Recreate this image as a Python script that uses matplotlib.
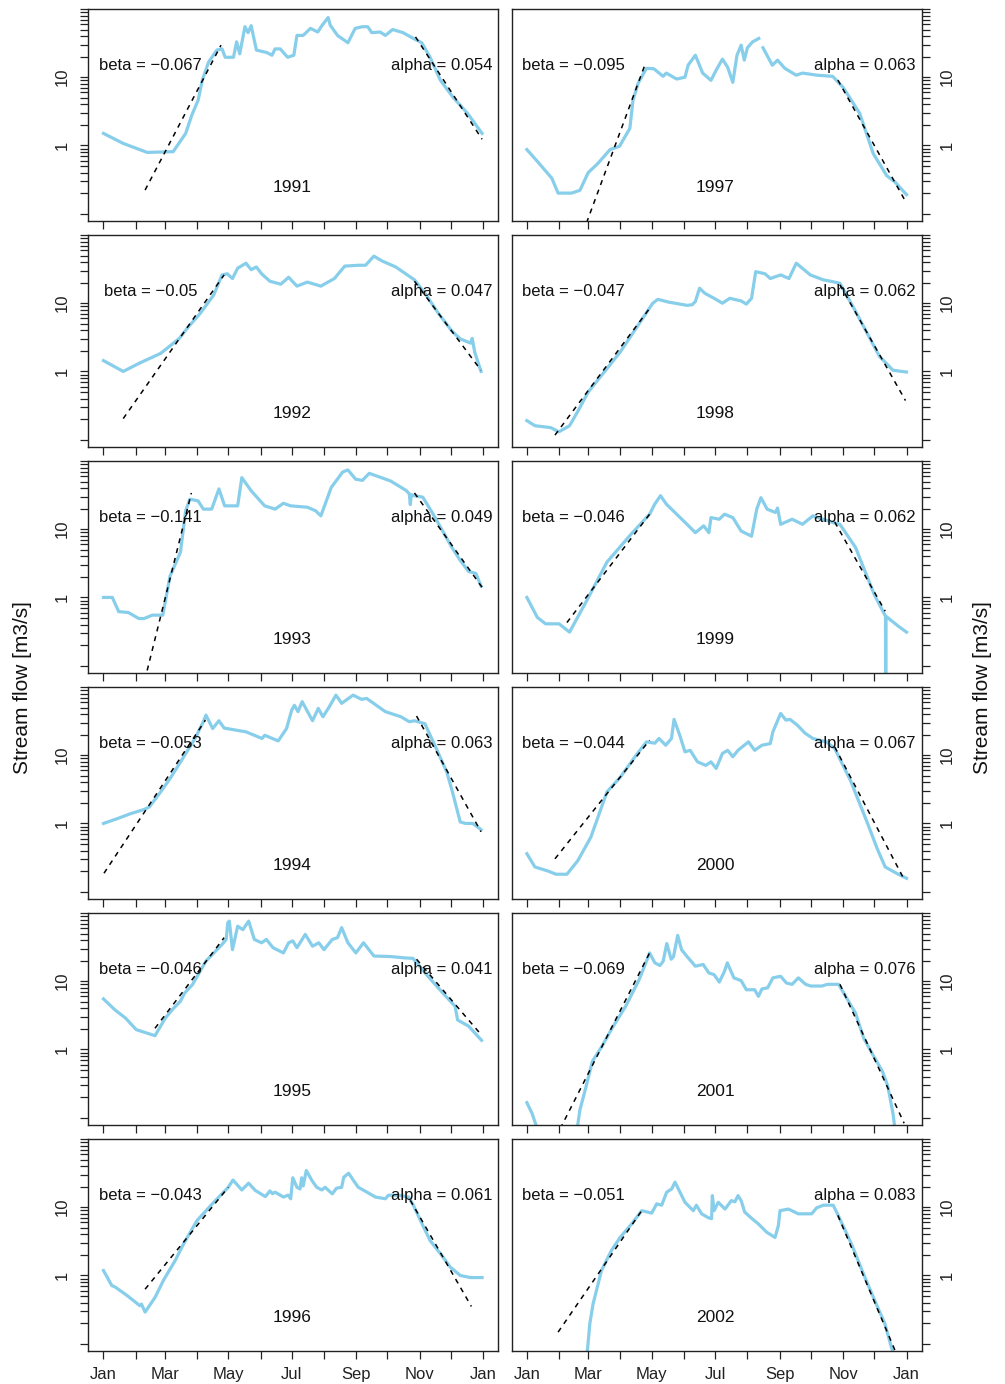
import numpy as np
import matplotlib
matplotlib.use("Agg")
import matplotlib.pyplot as plt
from matplotlib.ticker import NullLocator

plt.rcParams['font.family'] = ['Liberation Sans', 'DejaVu Sans']

nan = np.nan

# years, left column 1991-1996, right column 1997-2002
years = [1991, 1992, 1993, 1994, 1995, 1996, 1997, 1998, 1999, 2000, 2001, 2002]

# fitted rates shown in the panels
beta = [-0.067, -0.05, -0.141, -0.053, -0.046, -0.043,
        -0.095, -0.047, -0.046, -0.044, -0.069, -0.051]
alpha = [0.054, 0.047, 0.049, 0.063, 0.041, 0.061,
         0.063, 0.062, 0.062, 0.067, 0.076, 0.083]

# rising limb fit: start day, end day, flow at end day
rise_start = [41, 20, 43, 1.5, 50.5, 41, 55, 28, 39.5, 28, 33, 31]
rise_end = [114, 117, 85.5, 99, 117, 121, 114, 119, 119, 119, 119, 111.4]
rise_top = [29.5, 26, 34, 32.7, 43.5, 19.6, 14.5, 8.4, 16.6, 16.6, 26, 8.9]

# recession fit: start day, end day, flow at start day
rec_start = [301, 300, 300, 302, 302, 296, 300, 302, 297, 297, 302, 300]
rec_end = [365, 364, 365, 364, 365, 354.7, 364, 365, 345.5, 364, 363.7, 355]
rec_top = [39, 21, 34, 37.5, 21, 12.6, 9.1, 18.6, 12.7, 13.2, 9, 7.6]

# daily stream flow (day of year, m3/s)
days_1991 = [1, 20, 43, 68, 80, 86, 92, 96, 102, 110, 115, 118, 126, 129, 132, 137, 140, 143,
             148, 158, 163, 166, 171, 178, 184, 187, 193, 200, 207, 211, 217, 219, 226, 236,
             243, 250, 255, 259, 267, 272, 279, 289, 299, 307, 315, 325, 337, 351, 365]
flow_1991 = [1.5, 1.07, 0.79, 0.81, 1.5, 2.8, 4.6, 9, 16.6, 25, 26, 19.6, 19.6, 33, 22, 55, 45, 57,
             25, 23, 21, 26, 26, 19.6, 21, 41, 41, 52, 46, 57, 75, 58, 41, 32,
             52, 55, 55, 45, 46, 41, 50, 45, 37, 32, 19.6, 9, 5.1, 2.95, 1.5]

days_1992 = [1, 20, 35, 56, 74, 81.5, 94, 107, 115, 120, 125, 130, 138, 143, 148, 153, 161, 171.5,
             179, 187, 197, 210, 223, 233, 246, 253, 261, 269, 282, 300, 310, 323, 336, 344,
             354, 355.5, 358, 364]
flow_1992 = [1.44, 1.0, 1.31, 1.84, 3.05, 4.3, 7.1, 13.2, 26, 27, 23, 32.6, 38.6, 31, 34, 27, 21, 19,
             24, 17.8, 20.4, 17.8, 23, 35, 36, 36, 49, 41.5, 34, 22, 14, 7.1, 3.9, 3.0,
             2.6, 3.05, 1.9, 1.0]

days_1993 = [1, 9.5, 15.6, 25, 35, 40, 48, 58, 65, 75, 80, 84, 92, 97, 105, 112, 117.5, 130, 134,
             143, 156, 166, 174, 181, 197, 205, 210, 220, 231, 236, 243.5, 250, 256.5, 264, 277,
             292, 295, 296, 297, 300, 308, 318, 336, 344, 352, 359, 364]
flow_1993 = [1.0, 1.0, 0.62, 0.6, 0.49, 0.49, 0.55, 0.55, 2.06, 4.6, 18.6, 27.6, 26, 19.7, 19.7, 39, 22, 22, 57,
             36.6, 22, 19.7, 24, 22, 21, 18.6, 15.7, 41, 69, 74, 54, 52, 66, 60, 51,
             37, 33, 23, 32, 31, 29.5, 16.6, 5.4, 3.5, 2.4, 2.25, 1.47]

days_1994 = [1, 14, 27, 40, 45, 56, 66, 76, 89, 97, 99.5, 106, 112, 117, 138, 153.5, 156, 169, 177,
             182, 184.5, 188, 192, 202, 207.5, 212, 218, 224.5, 230, 241, 249, 254, 272, 287,
             295, 300, 310, 321, 331, 336.5, 344, 349, 356, 364]
flow_1994 = [1.0, 1.17, 1.39, 1.6, 1.74, 2.9, 4.8, 8.4, 17.6, 31, 38.7, 24.6, 32, 25, 22, 17.6, 19.6, 16.2, 24.6,
             46, 54, 43.5, 61, 32, 48.6, 36.6, 51, 76, 57.6, 76, 66, 68, 43.5, 36.6,
             31, 32, 29, 12.5, 5.7, 2.9, 1.05, 1.0, 1.0, 0.81]

days_1995 = [1, 12, 22, 32.5, 50.5, 60.6, 68.6, 75, 79, 86.5, 99.5, 115, 119, 120.5, 122, 125, 130,
             135, 140.6, 146, 153, 157.6, 164, 174, 179, 183, 187, 195, 202, 208, 213, 221, 226,
             230, 236, 243.6, 251, 261, 277, 290, 298.6, 313, 328.5, 339, 341.5, 352, 364.5]
flow_1995 = [5.5, 3.8, 2.9, 1.95, 1.59, 2.9, 4.05, 5.1, 6.7, 8.9, 19.7, 34.6, 41, 72, 76, 29, 64,
             57, 76, 41, 36.6, 41, 31, 26, 36.6, 39, 31, 48.6, 32.6, 36.6, 29, 41, 43.5,
             61, 36.6, 26, 36.6, 23.4, 23, 22, 21.6, 11.8, 6.4, 4.3, 2.7, 2.2, 1.36]

days_1996 = [1, 9, 12, 23.5, 36, 37.5, 41, 50.7, 58.7, 70, 78, 91, 107, 121, 125.5, 134, 140.5, 147,
             156.6, 161, 163.5, 166, 174, 178.5, 181, 183, 187, 190, 191.5, 193, 196, 201.5, 206,
             211, 214, 221, 225, 230, 232, 236.7, 241.5, 246, 254.4, 262.4, 272, 275, 284.8,
             294.4, 299, 308.8, 315, 325, 334.5, 344, 353.8, 365]
flow_1996 = [1.18, 0.71, 0.68, 0.51, 0.36, 0.38, 0.29, 0.48, 0.85, 1.66, 2.9, 6.4, 11.8, 19.6, 25, 17.9, 22.5, 17.6,
             14.3, 17.3, 15.8, 16.6, 14.1, 15, 13.3, 27, 19.6, 18.5, 27, 20.5, 34.5, 24.5, 19.6,
             17.9, 19.6, 15.7, 19, 19.6, 27.5, 31.5, 24.5, 19.6, 16.6, 14.1, 13.3, 15, 15,
             14.1, 10.6, 5.1, 3.25, 2.08, 1.32, 1.0, 0.93, 0.93]

days_1997 = [1, 13, 25, 31, 44, 52, 60, 69, 81, 90, 100, 103, 108, 116, 123, 132, 135, 145, 153, 156,
             163, 170, 178, 183, 189, 194, 199, 203, 207, 210, 213, 218, 224, 226, 228, 237, 242,
             249, 260, 266, 280, 295, 305, 321, 334, 347, 355, 366]
flow_1997 = [0.87, 0.54, 0.33, 0.2, 0.2, 0.22, 0.4, 0.54, 0.87, 0.97, 1.78, 4.6, 8.2, 13.5, 13.3, 10.3, 11.5, 9.4, 10, 15,
             21, 11.5, 9, 12.7, 18.4, 14, 8.4, 21, 29.5, 17.8, 27, 33, 37, nan, 27, 15, 17.8,
             13.5, 10.7, 11.5, 10.7, 10.3, 7.1, 2.95, 0.76, 0.36, 0.29, 0.19]

days_1998 = [1, 8.7, 24, 31.7, 42, 50, 60, 91, 122, 127, 137, 155, 160, 163, 167, 172, 181, 189, 196,
             207, 212, 217, 221, 230, 235, 245, 253, 260, 273.5, 286, 293, 302, 317, 340, 353, 366]
flow_1998 = [0.19, 0.16, 0.15, 0.13, 0.16, 0.26, 0.5, 1.95, 10, 11.4, 10.4, 9.3, 9.5, 10.6, 16.6, 14, 11.8, 10, 11.8,
             10.8, 9.7, 11.8, 29, 27, 23, 26, 23, 38.6, 26, 22, 21, 19.6, 7.6, 1.66, 1.04, 0.98]

days_1999 = [1, 11, 19, 32, 42, 57.5, 78, 101, 119, 124, 129.5, 135, 145, 155, 163, 171, 176, 178, 186,
             191, 199, 207, 217, 222, 226, 232, 240, 242, 245, 256, 266, 276, 294, 302, 317, 335,
             345.8, 346, 346.2, 358, 366]
flow_1999 = [1.0, 0.51, 0.41, 0.41, 0.31, 0.84, 3.3, 8.4, 16.6, 23.4, 31, 23.4, 16.6, 11.8, 8.9, 11.2, 8.9, 14.8, 14,
             16.6, 14.8, 9.4, 7.9, 19.7, 29, 19.7, 17.6, 20.4, 11.8, 14, 11.8, 15.7, 12.7, 11.8, 5.4, 1.1,
             0.53, 0.001, 0.53, 0.38, 0.31]

days_2000 = [1, 8.7, 21.5, 29, 39.5, 50, 62.5, 78, 91, 106, 116, 124, 128, 134.5, 140, 142.5, 148, 153,
             158, 165, 173, 178, 183, 189, 194, 199, 204, 214, 220, 227, 235, 237.5, 245, 250, 254,
             261, 268.5, 276, 289, 297, 312, 327.5, 338, 345.5, 358, 366]
flow_2000 = [0.36, 0.23, 0.2, 0.18, 0.18, 0.285, 0.63, 2.9, 4.8, 10, 15.7, 15, 17.6, 14, 17.6, 33.5, 19.6, 11.2,
             11.8, 8, 7.1, 8, 6.4, 10.6, 11.8, 9.5, 11.8, 15.7, 11.8, 14, 14.8, 22, 41, 32.7, 33.5,
             27.6, 21, 17.6, 15.7, 12.5, 4.3, 1.1, 0.42, 0.23, 0.18, 0.157]

days_2001 = [1, 6, 14, 30, 48, 52, 57.5, 64, 73, 83, 96, 109, 116.7, 119, 124, 129, 132, 135.5, 139.7,
             142, 146, 149.7, 155, 163, 170.5, 176, 181, 186, 191, 193.7, 200, 207, 212, 220, 223.6,
             227, 232.5, 237.5, 245, 250.6, 256, 262, 269, 274, 284.7, 290, 300.7, 317, 324.8,
             332.8, 343, 348, 353, 356, 366]
flow_2001 = [0.166, 0.115, 0.05, 0.03, 0.05, 0.13, 0.27, 0.67, 1.1, 2.06, 4.3, 10.6, 21, 26, 18.6, 17, 19.6, 35.7, 21,
             23, 47, 29, 23, 16.6, 17.6, 13.2, 12.5, 9.7, 14, 18.6, 11.2, 10.2, 7.5, 7.5, 6,
             7.7, 8, 11.2, 11.8, 9.4, 9, 11.2, 9, 8.5, 8.5, 9, 9, 3.4, 1.47,
             0.88, 0.47, 0.29, 0.115, 0.05, 0.03]

days_2002 = [1, 40, 58, 61.5, 64.6, 72.7, 82.3, 90.6, 101.8, 111.4, 121, 125.8, 130.6, 135.4, 140.3,
             143.4, 146.6, 153, 161, 164, 169, 175.5, 178.6, 179.3, 181, 185, 191.5, 197.6, 201,
             204, 207, 210.4, 216.5, 223.5, 231.6, 239.6, 242.8, 244.4, 252.4, 262, 274.8, 279.6,
             286, 295.5, 300.3, 313, 325.8, 338.6, 345, 351.4, 355, 366]
flow_2002 = [0.02, 0.02, 0.05, 0.196, 0.38, 1.18, 2.32, 3.6, 5.7, 8.9, 8.2, 11.2, 10.7, 16.6, 18.6,
             23.3, 18.6, 11.8, 8.9, 10.7, 8, 7, 6.8, 14.8, 8.9, 11.8, 9.4, 12.5, 12,
             14.8, 12.5, 8.5, 7, 5.7, 4.3, 3.6, 5.4, 8.9, 9.4, 8, 8, 9.8,
             10.7, 10.7, 7.6, 2.9, 0.95, 0.33, 0.2, 0.089, 0.06, 0.03]

series = [(days_1991, flow_1991), (days_1992, flow_1992), (days_1993, flow_1993),
          (days_1994, flow_1994), (days_1995, flow_1995), (days_1996, flow_1996),
          (days_1997, flow_1997), (days_1998, flow_1998), (days_1999, flow_1999),
          (days_2000, flow_2000), (days_2001, flow_2001), (days_2002, flow_2002)]

month_days = [1, 32, 60, 91, 121, 152, 182, 213, 244, 274, 305, 335, 366]
month_labels = ['Jan', '', 'Mar', '', 'May', '', 'Jul', '', 'Sep', '', 'Nov', '', 'Jan']

y_ticks = [m * 10.0 ** e for e in (-1, 0, 1) for m in range(1, 10)] + [100]
y_labels = ['1' if v == 1 else '10' if v == 10 else '' for v in y_ticks]

W, H = 1005, 1384
fig = plt.figure(figsize=(W / 100, H / 100), dpi=100)
box_w, box_h = 410, 212
col_left = [88.3, 511.7]

for i, year in enumerate(years):
    col, row = i // 6, i % 6
    top = 9 + 226 * row
    ax = fig.add_axes([col_left[col] / W, 1 - (top + box_h) / H, box_w / W, box_h / H])

    d, q = series[i]
    ax.plot(d, q, color='#87CEEB', lw=2.3, solid_joinstyle='round', zorder=2)

    # fitted exponential limbs
    t_r = np.array([rise_start[i], rise_end[i]])
    ax.plot(t_r, rise_top[i] * np.exp(-beta[i] * (t_r - rise_end[i])),
            color='black', lw=1.1, dashes=(3.3, 3.3), zorder=3)
    t_f = np.array([rec_start[i], rec_end[i]])
    ax.plot(t_f, rec_top[i] * np.exp(-alpha[i] * (t_f - rec_start[i])),
            color='black', lw=1.1, dashes=(3.3, 3.3), zorder=3)

    ax.set_yscale('log')
    ax.set_xlim(1 - 14.6, 366 + 14.6)
    ax.set_ylim(0.078, 98)
    ax.set_yticks(y_ticks, y_labels)
    ax.yaxis.set_minor_locator(NullLocator())
    ax.set_xticks(month_days, month_labels if row == 5 else [''] * 13)
    ax.xaxis.set_minor_locator(NullLocator())

    ax.tick_params(axis='both', direction='out', length=5.8, width=0.9, labelsize=12, colors='#222222')
    ax.tick_params(axis='x', pad=6)
    if col == 0:
        ax.tick_params(axis='y', pad=7.5, labelrotation=90)
        for lab in ax.get_yticklabels():
            lab.set_va('center')
    else:
        ax.tick_params(axis='y', left=False, labelleft=False, right=True, labelright=True,
                       pad=7, labelrotation=90)
        for lab in ax.get_yticklabels():
            lab.set_va('center')
            lab.set_ha('left')

    for s in ax.spines.values():
        s.set_linewidth(1.0)
        s.set_color('#222222')

    ax.text(46, 15, f"beta = {beta[i]:g}".replace('-', '\u2212'), ha='center', va='center',
            fontsize=12, color='#111111')
    ax.text(326, 15, f"alpha = {alpha[i]:g}", ha='center', va='center',
            fontsize=12, color='#111111')
    ax.text(182, 0.245, str(year), ha='center', va='center', fontsize=12.5, color='#111111')

fig.text(23 / W, 1 - 688 / H, 'Stream flow [m3/s]', rotation=90, ha='center', va='center',
         fontsize=15, color='#111111')
fig.text(982 / W, 1 - 688 / H, 'Stream flow [m3/s]', rotation=90, ha='center', va='center',
         fontsize=15, color='#111111')

fig.savefig('out.png', dpi=100)
